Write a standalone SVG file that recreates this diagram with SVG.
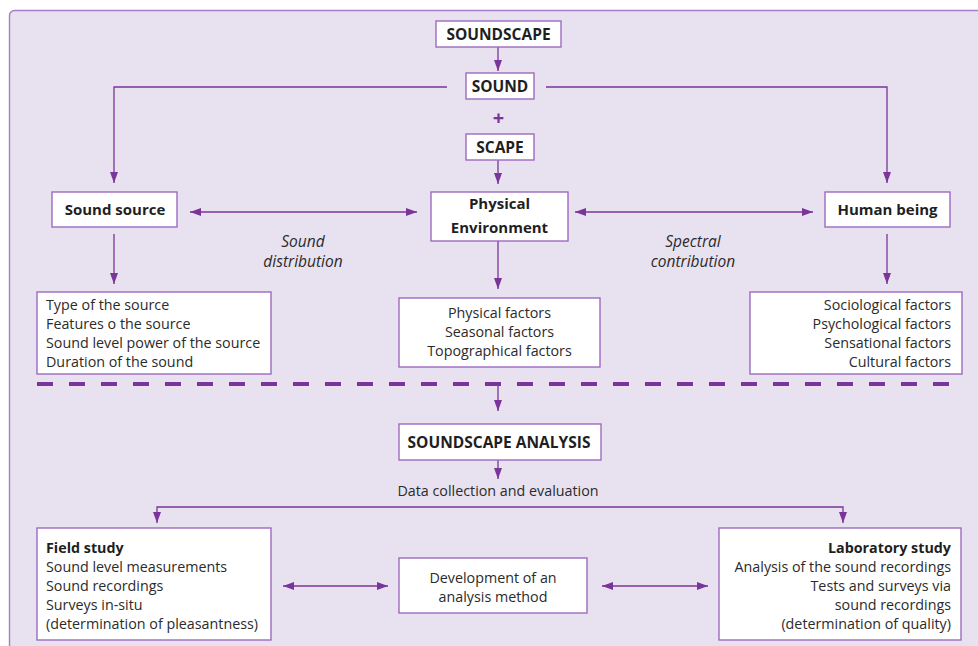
<svg xmlns="http://www.w3.org/2000/svg" width="978" height="646" viewBox="0 0 978 646">
<style>
.box{fill:#fff;stroke:#9d6ac0;stroke-width:1.4}
.ln{stroke:#7b3598;stroke-width:1.3;fill:none}
.t{font-family:"Open Sans","Noto Sans",sans-serif;font-size:14.3px;fill:#2b2b2b}
.b{font-weight:bold;fill:#1f1f1f}
.cap{font-size:15.5px}
.i{font-style:italic;font-size:15.5px}
.c{text-anchor:middle}
.r{text-anchor:end}
</style>
<defs>
<marker id="ah" viewBox="0 0 11 8" refX="11" refY="4" markerWidth="11" markerHeight="8" markerUnits="userSpaceOnUse" orient="auto-start-reverse">
<path d="M0,0 L11,4 L0,8 z" fill="#7b3598"/>
</marker>
</defs>
<rect x="0" y="0" width="978" height="646" fill="#fff"/>
<rect x="9.5" y="10.5" width="990" height="660" rx="5" fill="#e8e1f0" stroke="#a87dc8" stroke-width="1.4"/>

<g id="connectors">
<path class="ln" d="M498,47 V71" marker-end="url(#ah)"/>
<path class="ln" d="M447,87 H114 V183" marker-end="url(#ah)"/>
<path class="ln" d="M546,87 H887 V183" marker-end="url(#ah)"/>
<path class="ln" d="M498,160 V184" marker-end="url(#ah)"/>
<path class="ln" d="M190,212 H417" marker-start="url(#ah)" marker-end="url(#ah)"/>
<path class="ln" d="M575,212 H813" marker-start="url(#ah)" marker-end="url(#ah)"/>
<path class="ln" d="M114,234 V284" marker-end="url(#ah)"/>
<path class="ln" d="M498,241 V289" marker-end="url(#ah)"/>
<path class="ln" d="M887,234 V284" marker-end="url(#ah)"/>
<path d="M37,384 H962" stroke="#7b3598" stroke-width="4" stroke-dasharray="16 16" fill="none"/>
<path class="ln" d="M498,386 V411" marker-end="url(#ah)"/>
<path class="ln" d="M498,460 V479" marker-end="url(#ah)"/>
<path class="ln" d="M157,523 V507 H843 V523" marker-start="url(#ah)" marker-end="url(#ah)"/>
<path class="ln" d="M283,586 H388" marker-start="url(#ah)" marker-end="url(#ah)"/>
<path class="ln" d="M602,586 H708" marker-start="url(#ah)" marker-end="url(#ah)"/>
<text class="t c" x="498.5" y="125" style="font-size:20px;font-weight:bold;fill:#7b3598">+</text>
<text class="t i c" x="303" y="247">Sound</text>
<text class="t i c" x="303" y="267">distribution</text>
<text class="t i c" x="693" y="247">Spectral</text>
<text class="t i c" x="693" y="267">contribution</text>
<text class="t c" x="498" y="496">Data collection and evaluation</text>
</g>

<g id="soundscape">
<rect class="box" x="436" y="21" width="125" height="26"/>
<text class="t b c cap" x="498.5" y="39.5">SOUNDSCAPE</text>
</g>
<g id="sound">
<rect class="box" x="466" y="73" width="68" height="26"/>
<text class="t b c cap" x="500" y="91.5">SOUND</text>
</g>
<g id="scape">
<rect class="box" x="466" y="134" width="68" height="26"/>
<text class="t b c cap" x="500" y="152.5">SCAPE</text>
</g>
<g id="sound-source">
<rect class="box" x="52" y="192" width="125" height="35"/>
<text class="t b c" x="115" y="215" style="font-size:15px">Sound source</text>
</g>
<g id="physical-environment">
<rect class="box" x="431" y="192" width="137" height="49"/>
<text class="t b c" x="499.5" y="209" style="font-size:15px">Physical</text>
<text class="t b c" x="499.5" y="233" style="font-size:15px">Environment</text>
</g>
<g id="human-being">
<rect class="box" x="825" y="192" width="125" height="35"/>
<text class="t b c" x="887.5" y="215" style="font-size:15px">Human being</text>
</g>
<g id="source-factors">
<rect class="box" x="37" y="292" width="234" height="82"/>
<text class="t" x="46" y="310">Type of the source</text>
<text class="t" x="46" y="329">Features o the source</text>
<text class="t" x="46" y="348">Sound level power of the source</text>
<text class="t" x="46" y="367">Duration of the sound</text>
</g>
<g id="environment-factors">
<rect class="box" x="399" y="298" width="201" height="69"/>
<text class="t c" x="499.5" y="318">Physical factors</text>
<text class="t c" x="499.5" y="337">Seasonal factors</text>
<text class="t c" x="499.5" y="356">Topographical factors</text>
</g>
<g id="human-factors">
<rect class="box" x="750" y="292" width="212" height="82"/>
<text class="t r" x="951" y="310">Sociological factors</text>
<text class="t r" x="951" y="329">Psychological factors</text>
<text class="t r" x="951" y="348">Sensational factors</text>
<text class="t r" x="951" y="367">Cultural factors</text>
</g>
<g id="soundscape-analysis">
<rect class="box" x="399" y="424" width="202" height="36"/>
<text class="t b c cap" x="499" y="447.5">SOUNDSCAPE ANALYSIS</text>
</g>
<g id="field-study">
<rect class="box" x="37" y="528" width="234" height="112"/>
<text class="t b" x="46" y="553">Field study</text>
<text class="t" x="46" y="572">Sound level measurements</text>
<text class="t" x="46" y="591">Sound recordings</text>
<text class="t" x="46" y="610">Surveys in-situ</text>
<text class="t" x="46" y="629">(determination of pleasantness)</text>
</g>
<g id="development">
<rect class="box" x="399" y="558" width="188" height="55"/>
<text class="t c" x="493" y="583">Development of an</text>
<text class="t c" x="493" y="602">analysis method</text>
</g>
<g id="laboratory-study">
<rect class="box" x="719" y="528" width="242" height="112"/>
<text class="t b r" x="951" y="553">Laboratory study</text>
<text class="t r" x="951" y="572">Analysis of the sound recordings</text>
<text class="t r" x="951" y="591">Tests and surveys via</text>
<text class="t r" x="951" y="610">sound recordings</text>
<text class="t r" x="951" y="629">(determination of quality)</text>
</g>
</svg>
